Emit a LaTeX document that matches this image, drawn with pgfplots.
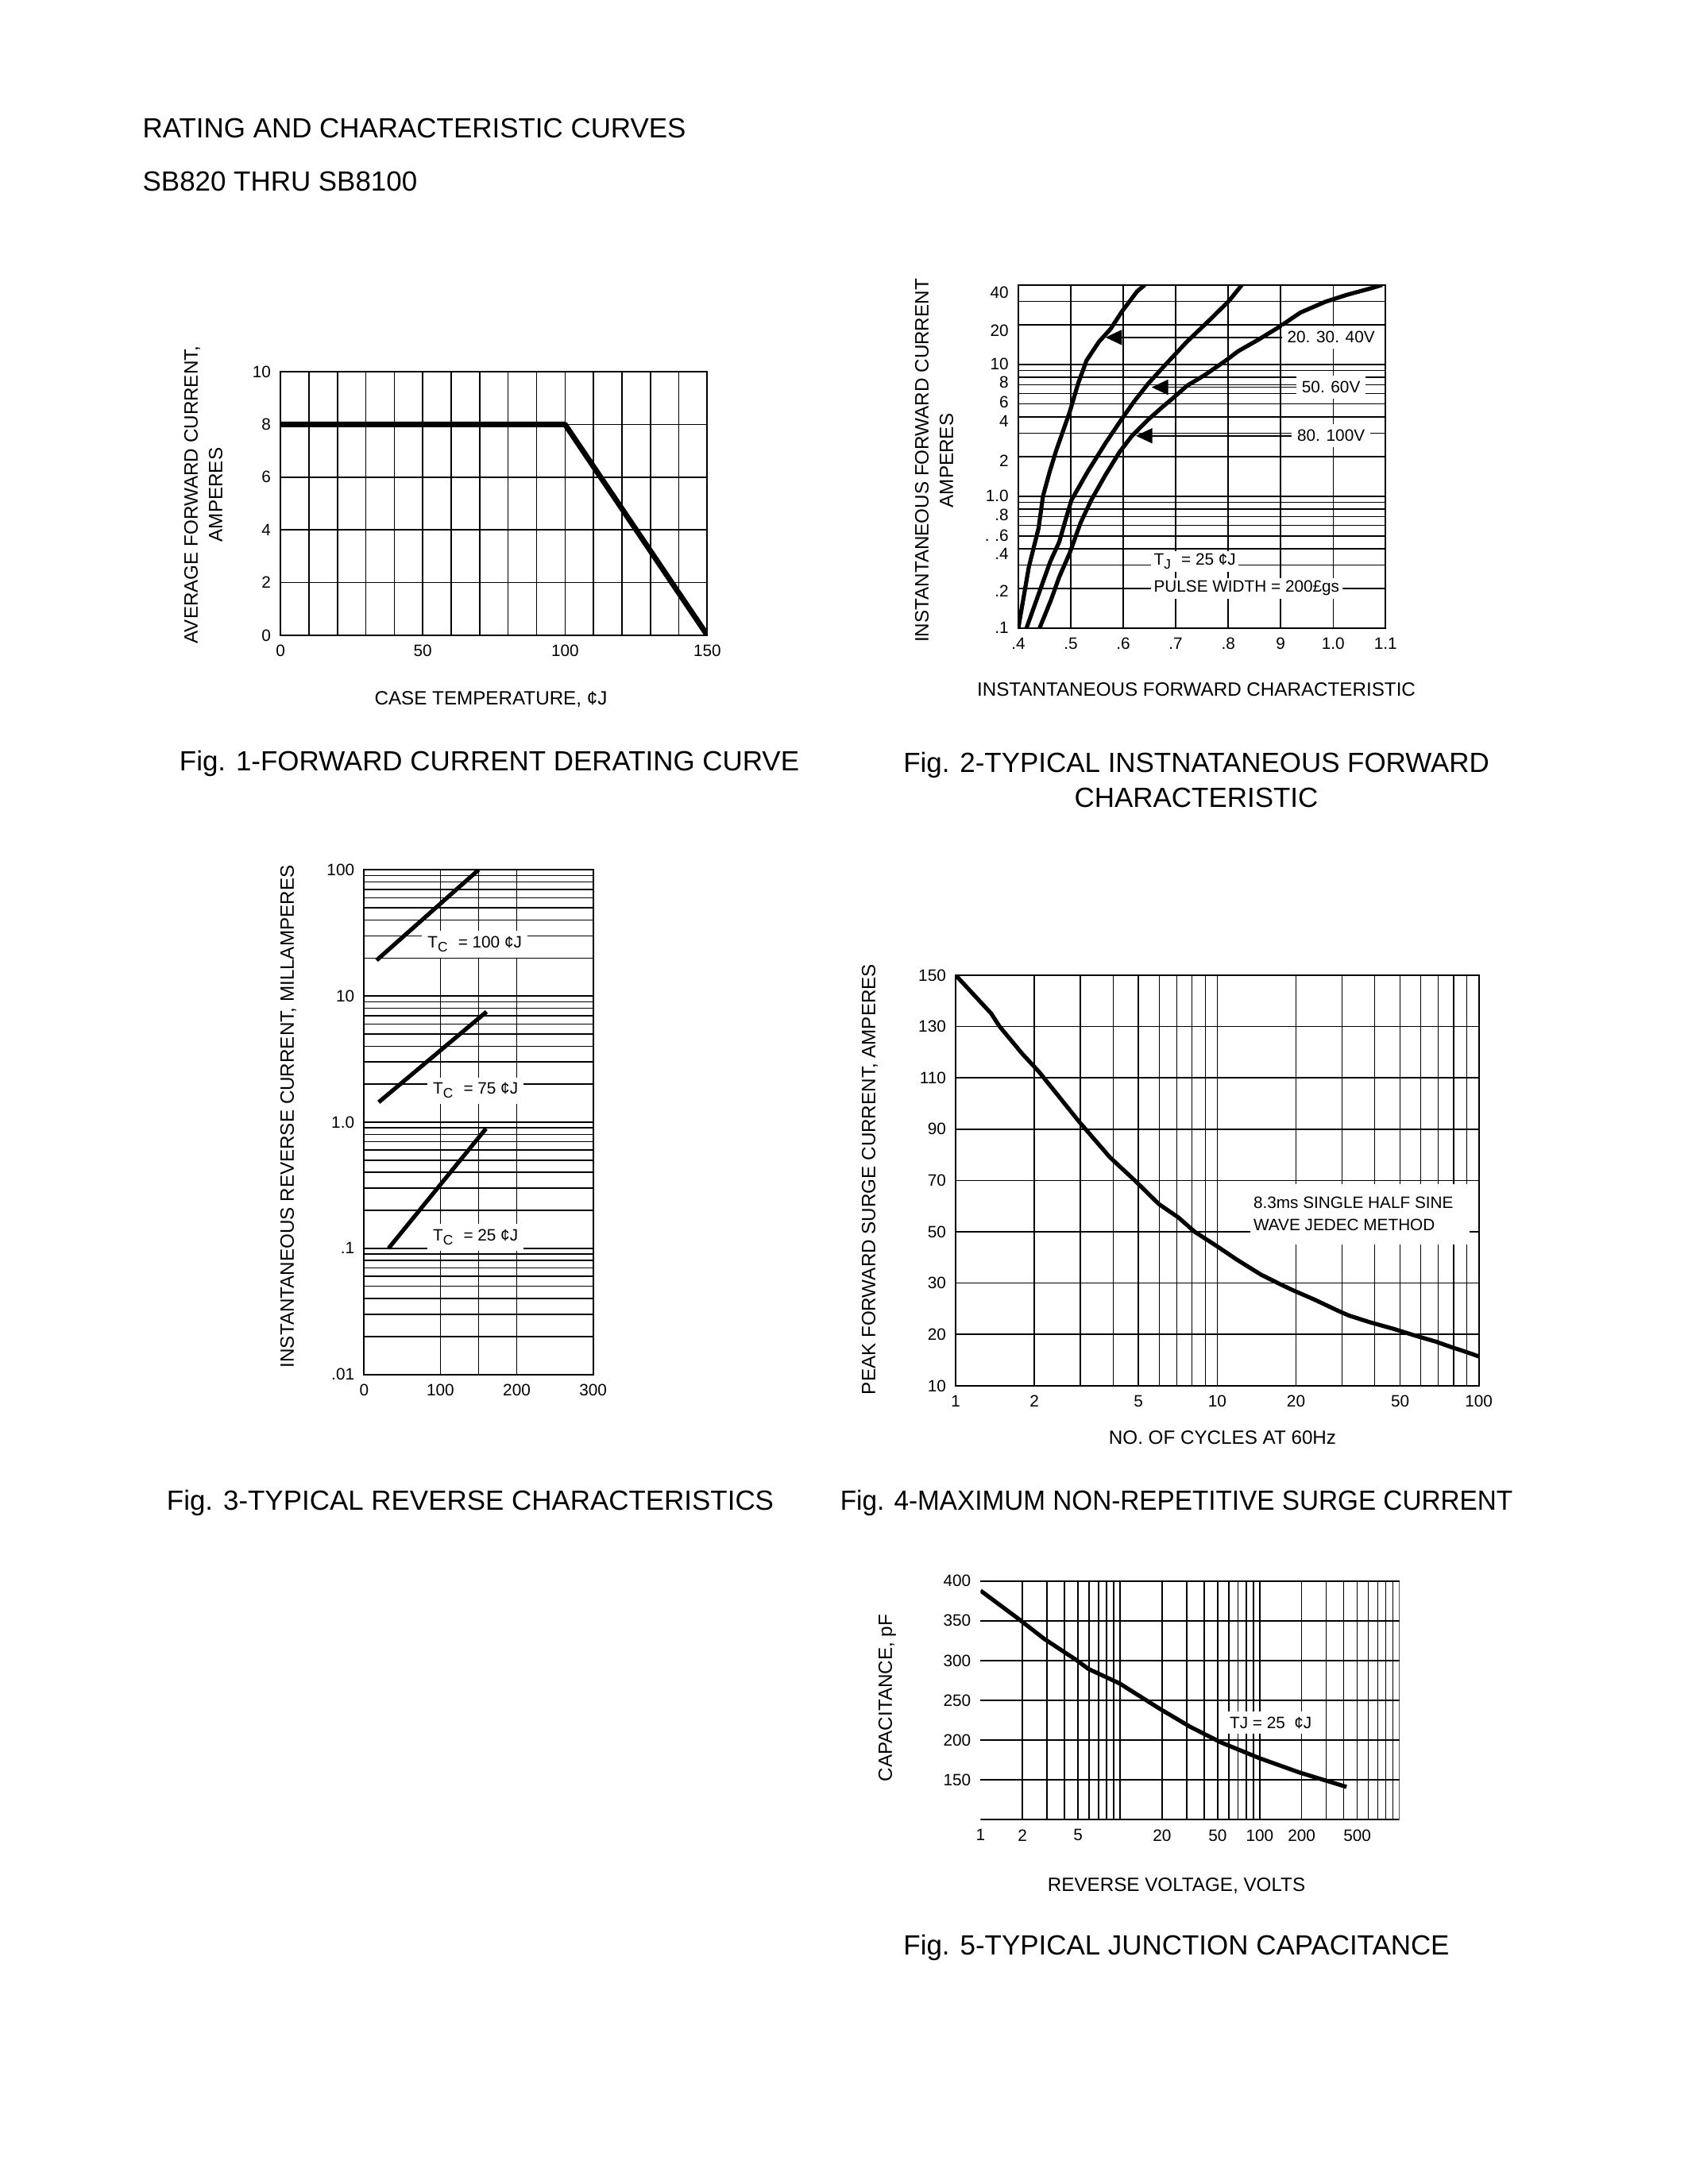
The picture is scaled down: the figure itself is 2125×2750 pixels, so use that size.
\documentclass[border=0pt]{standalone}
\usepackage{fontspec}
\setmainfont{Liberation Sans}
\usepackage{pgfplots}
\pgfplotsset{compat=1.18}
\usetikzlibrary{arrows.meta}

\pgfplotsset{
  sheet/.style={
    scale only axis,
    anchor=south west,
    axis line style={line width=0.6pt},
    grid style={line width=0.45pt, black},
    major grid style={line width=0.45pt, black},
    minor grid style={line width=0.45pt, black},
    major tick length=0pt, minor tick length=0pt,
    ticklabel style={font=\fontsize{6}{7}\selectfont},
    /pgf/number format/assume math mode=true,
  },
  curve/.style={black, line width=1.5pt, no markers, line join=round},
}
\newcommand\lab{\fontsize{7}{9}\selectfont}
\newcommand\figcap{\fontsize{10.1}{12.6}\selectfont}
\newcommand\note{\fontsize{6}{9.5}\selectfont}

\begin{document}
% 1 unit = 1 pixel of the 2125x2750 page
\begin{tikzpicture}[x=0.01016cm, y=0.01016cm]
\useasboundingbox (0,0) rectangle (2125,2750);

% header
\node[anchor=west, inner sep=0pt, font=\figcap] at (179,2588) {RATING AND CHARACTERISTIC CURVES};
\node[anchor=west, inner sep=0pt, font=\figcap] at (179,2521) {SB820 THRU SB8100};

% Fig. 1
\begin{axis}[sheet, at={(3.5885cm,19.8171cm)}, width=5.460cm, height=3.372cm,
  xmin=0, xmax=150, ymin=0, ymax=10,
  xtick={0,50,100,150}, minor xtick={10,20,30,40,60,70,80,90,110,120,130,140},
  ytick={0,2,4,6,8,10},
  xmajorgrids, xminorgrids, ymajorgrids]
\addplot[curve, line width=2pt] coordinates {(0,8) (100,8) (150,0)};
\end{axis}
\node[rotate=90, align=center, font=\lab] at (256,2127) {AVERAGE FORWARD CURRENT,\\AMPERES};
\node[font=\lab] at (618,1869) {CASE TEMPERATURE, ¢J};
\node[font=\figcap] at (616,1789) {Fig. 1-FORWARD CURRENT DERATING CURVE};

% Fig. 2
\begin{axis}[sheet, at={(13.0272cm,19.9095cm)}, width=4.699cm, height=4.390cm,
  xmin=0.4, xmax=1.1, ymode=log, ymin=0.1, ymax=40,
  xtick={0.4,0.5,0.6,0.7,0.8,0.9,1.0,1.1},
  xticklabels={.4,.5,.6,.7,.8,9,1.0,1.1},
  % labels sit where the sheet prints them, a little off the grid lines
  ytick={0.1,0.19,0.366,0.506,0.716,1,1.85,3.72,5.15,7.3,10,18,35},
  yticklabels={.1,.2,.4,{.\,\,.6},.8,1.0,2,4,6,8,10,20,40},
  minor ytick={0.2,0.3,0.4,0.5,0.6,0.7,0.8,0.9,1,2,3,4,5,6,7,8,9,10,20,30},
  xmajorgrids, yminorgrids]
\addplot[curve] coordinates {
  (0.400,0.10) (0.420,0.29) (0.4385,0.57) (0.447,1.0) (0.4595,1.52)
  (0.472,2.21) (0.498,4.36) (0.514,7.16) (0.530,10.7) (0.5535,14.8)
  (0.576,18.6) (0.597,25) (0.6265,35.8) (0.641,40)};
\addplot[curve] coordinates {
  (0.4156,0.10) (0.4406,0.19) (0.461,0.32) (0.478,0.45) (0.489,0.64)
  (0.501,0.93) (0.532,1.53) (0.566,2.52) (0.596,3.79) (0.620,5.18)
  (0.647,7.1) (0.681,10) (0.721,14.8) (0.762,21.2) (0.802,30.4) (0.826,40)};
\addplot[curve] coordinates {
  (0.4406,0.10) (0.4622,0.163) (0.4778,0.243) (0.498,0.371) (0.5184,0.625)
  (0.5387,0.93) (0.5657,1.44) (0.5928,2.16) (0.6164,2.86) (0.6469,3.79)
  (0.6739,4.72) (0.6942,5.52) (0.7213,6.87) (0.7551,8.28) (0.7957,10.7)
  (0.8193,12.6) (0.8565,15.3) (0.8971,19.2) (0.9377,24.7) (0.985,29.8)
  (1.0256,33.6) (1.0729,37.8) (1.0932,40)};
\draw[line width=0.5pt, {Triangle[length=6pt,width=5.5pt]}-] (axis cs:0.566,16) -- (axis cs:0.93,16);
\draw[line width=0.5pt, {Triangle[length=6pt,width=5.5pt]}-] (axis cs:0.654,6.7) -- (axis cs:0.93,6.7);
\draw[line width=0.5pt, {Triangle[length=6pt,width=5.5pt]}-] (axis cs:0.624,2.87) -- (axis cs:0.93,2.87);
\node[fill=white, inner sep=2pt, font=\note] at (axis cs:0.996,16) {20. 30. 40V};
\node[fill=white, inner sep=2pt, font=\note] at (axis cs:0.996,6.7) {50. 60V};
\node[fill=white, inner sep=2pt, font=\note] at (axis cs:0.996,2.87) {80. 100V};
\node[fill=white, inner sep=1pt, anchor=west, font=\note] at (axis cs:0.652,0.32) {T\textsubscript{J}\ \ = 25 ¢J};
\node[fill=white, inner sep=1pt, anchor=west, font=\note] at (axis cs:0.652,0.20) {PULSE WIDTH = 200£gs};
\end{axis}
\node[rotate=90, align=center, font=\lab] at (1176,2170) {INSTANTANEOUS FORWARD CURRENT\\AMPERES};
\node[font=\lab] at (1506,1882) {INSTANTANEOUS FORWARD CHARACTERISTIC};
\node[align=center, font=\figcap] at (1506,1768) {Fig. 2-TYPICAL INSTNATANEOUS FORWARD\\CHARACTERISTIC};

% Fig. 3
\begin{axis}[sheet, at={(4.6573cm,10.3581cm)}, width=2.930cm, height=6.457cm,
  xmin=0, xmax=300, ymode=log, ymin=0.01, ymax=100,
  xtick={0,100,200,300}, minor xtick={150},
  ytick={0.01,0.1,1,10,100}, yticklabels={.01,.1,1.0,10,100},
  minor ytick={0.02,0.03,0.04,0.05,0.06,0.07,0.08,0.09,
    0.2,0.3,0.4,0.5,0.6,0.7,0.8,0.9,2,3,4,5,6,7,8,9,
    20,30,40,50,60,70,80,90},
  xmajorgrids, xminorgrids, ymajorgrids, yminorgrids]
\addplot[curve] coordinates {(16.4,19.2) (150,100)};
\addplot[curve] coordinates {(19.2,1.44) (160.4,7.5)};
\addplot[curve] coordinates {(32.1,0.10) (159.7,0.89)};
\node[fill=white, inner sep=2pt, font=\note] at (axis cs:145,25.7) {T\textsubscript{C} \ = 100 ¢J};
\node[fill=white, inner sep=2pt, font=\note] at (axis cs:146,1.78) {T\textsubscript{C} \ = 75 ¢J};
\node[fill=white, inner sep=2pt, font=\note] at (axis cs:146,0.122) {T\textsubscript{C} \ = 25 ¢J};
\end{axis}
\node[rotate=90, font=\lab] at (363,1344) {INSTANTANEOUS REVERSE CURRENT, MILLAMPERES};
\node[font=\figcap] at (592,858) {Fig. 3-TYPICAL REVERSE CHARACTERISTICS};

% Fig. 4 (the sheet spaces 10-20-30 and 30-50-...-150 equally)
\begin{axis}[sheet, at={(12.2255cm,10.2138cm)}, width=6.693cm, height=5.254cm,
  xmode=log, xmin=1, xmax=100, ymin=10, ymax=150,
  y coord trafo/.code={\pgfmathparse{#1<30 ? (#1-10)/10 : 2+(#1-30)/20}},
  y coord inv trafo/.code={\pgfmathparse{#1<2 ? 10+10*#1 : 30+20*(#1-2)}},
  xtick={1,2,5,10,20,50,100}, xticklabels={1,2,5,10,20,50,100},
  minor xtick={3,4,6,7,8,9,30,40,60,70,80,90},
  ytick={10,20,30,50,70,90,110,130,150},
  yticklabels={10,20,30,50,70,90,110,130,150},
  xmajorgrids, xminorgrids, ymajorgrids]
\addplot[curve] coordinates {
  (1,150) (1.366,135.1) (1.47,130.1) (1.80,119.3) (2.08,112.4) (2.50,102.3)
  (2.97,92.8) (3.89,79) (4.84,70) (5.98,60.8) (7.1,55.6) (8.2,50) (10,44.3)
  (11.9,39.1) (14.7,33.3) (17.3,29.85) (19.3,28.7) (23.5,26.8) (29,24.6)
  (31.8,23.7) (38.2,22.4) (47.1,21.1) (57.7,19.7) (68.5,18.6) (78.8,17.5)
  (86.9,16.8) (97.7,15.9) (100,15.7)};
\fill[white] (axis cs:13.4,68.5) rectangle (axis cs:92,45);
\node[inner sep=0pt, anchor=west, font=\note] at (axis cs:13.7,61.2) {8.3ms SINGLE HALF SINE};
\node[inner sep=0pt, anchor=west, font=\note] at (axis cs:13.7,52.6) {WAVE JEDEC METHOD};
\end{axis}
\node[rotate=90, font=\lab] at (1095,1265) {PEAK FORWARD SURGE CURRENT, AMPERES};
\node[font=\lab] at (1539,940) {NO. OF CYCLES AT 60Hz};
\node[font=\figcap, xscale=0.953] at (1481,858) {Fig. 4-MAXIMUM NON-REPETITIVE SURGE CURRENT};

% Fig. 5
\begin{axis}[sheet, at={(12.5435cm,4.6614cm)}, width=5.357cm, height=3.054cm,
  xmode=log, xmin=1, xmax=1000, ymin=100, ymax=400,
  axis line style={draw=none},
  xtick={1,2,5,20,50,100,200,500}, xticklabels={1,2,5,20,50,100,200,500},
  minor xtick={2,3,4,5,6,7,8,9,10,20,30,40,50,60,70,80,90,100,
    200,300,400,500,600,700,800,900},
  ytick={150,200,250,300,350,400},
  xminorgrids, ymajorgrids]
\addplot[curve] coordinates {
  (1,388) (1.886,352) (2.85,327.5) (4.83,301) (5.93,289.5) (9.89,271.4)
  (19,240) (31.6,217) (53,197) (99.4,177.4) (193,159.3) (295,149.4) (419,141.2)};
\draw[line width=0.6pt] (rel axis cs:0,0) -- (rel axis cs:1,0) -- (rel axis cs:1,1) -- (rel axis cs:0,1);
\node[fill=white, inner sep=2pt, font=\note] at (axis cs:120,222) {TJ = 25 \ ¢J};
\end{axis}
\node[rotate=90, font=\lab] at (1117,612) {CAPACITANCE, pF};
\node[font=\lab] at (1481,375) {REVERSE VOLTAGE, VOLTS};
\node[font=\figcap] at (1481,298) {Fig. 5-TYPICAL JUNCTION CAPACITANCE};
\end{tikzpicture}
\end{document}
